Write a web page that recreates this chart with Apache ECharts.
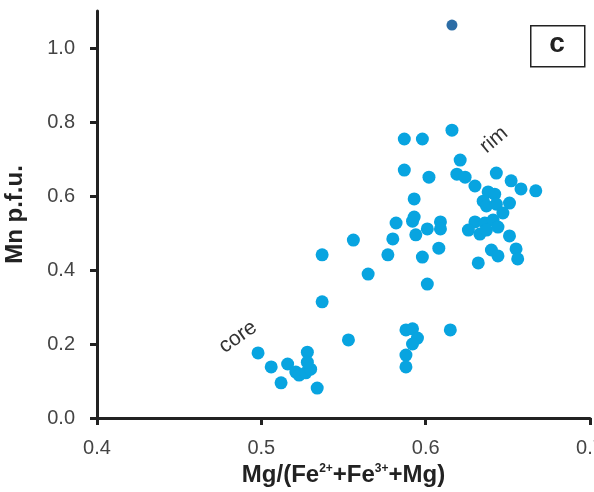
<!DOCTYPE html>
<html>
<head>
<meta charset="utf-8">
<script src="https://cdn.jsdelivr.net/npm/echarts@6/dist/echarts.min.js"></script>
<style>
html,body{margin:0;padding:0;background:#fff;}
#chart{width:594px;height:492px;}
</style>
</head>
<body>
<div id="chart"></div>
<script>
// Mg/(Fe2+ + Fe3+ + Mg) values (x)
const mgRatio = [0.498,0.506,0.512,0.516,0.521,0.523,0.527,0.530,0.528,0.528,0.534,
0.537,0.537,0.553,0.556,0.565,0.577,0.580,0.582,0.587,0.598,0.587,0.602,0.593,0.592,0.593,0.594,0.601,0.609,0.609,0.598,0.608,0.601,0.588,0.592,0.595,0.592,0.588,0.588,0.615,
0.616,0.621,0.619,0.624,0.630,0.643,0.652,0.658,0.667,0.638,0.642,0.635,0.637,0.643,0.651,0.647,0.630,0.636,0.641,0.626,0.633,0.637,0.644,0.651,0.640,0.644,0.655,0.656,0.632];
// Mn p.f.u. values (y)
const mnPfu = [0.176,0.138,0.095,0.146,0.124,0.116,0.122,0.132,0.178,0.151,0.081,
0.314,0.441,0.211,0.481,0.389,0.441,0.484,0.527,0.754,0.754,0.670,0.651,0.592,0.532,0.543,0.495,0.511,0.530,0.511,0.435,0.459,0.362,0.238,0.241,0.216,0.200,0.170,0.138,0.238,
0.778,0.697,0.659,0.651,0.627,0.662,0.641,0.619,0.614,0.611,0.605,0.586,0.573,0.578,0.581,0.554,0.530,0.527,0.535,0.508,0.497,0.508,0.516,0.492,0.454,0.438,0.457,0.430,0.419];
// outlier point
const outlierMg = [0.616];
const outlierMn = [1.062];
// tick labels
const xTicks = [0.4, 0.5, 0.6, 0.7];
const yTicks = [0.0, 0.2, 0.4, 0.6, 0.8, 1.0];

const mainData = mgRatio.map((x, i) => [x, mnPfu[i]]);
const outlierData = outlierMg.map((x, i) => [x, outlierMn[i]]);

const chart = echarts.init(document.getElementById('chart'), null, {renderer: 'canvas'});
const FONT = '"Liberation Sans", Arial, sans-serif';
const axisLine = {show: true, onZero: false, lineStyle: {color: '#222', width: 3}};
const axisTick = {show: true, length: 7, lineStyle: {color: '#222', width: 3}};

chart.setOption({
  animation: false,
  backgroundColor: '#fff',
  grid: {left: 97, right: 4, top: 11, bottom: 74, containLabel: false, outerBoundsMode: 'none'},
  xAxis: {
    type: 'value', min: 0.4, max: 0.7, interval: 0.1,
    name: '{b|Mg/(Fe}{s|2+}{b|+Fe}{s|3+}{b|+Mg)}',
    nameLocation: 'middle', nameGap: 42,
    nameTextStyle: {
      rich: {
        b: {fontFamily: FONT, fontWeight: 'bold', fontSize: 24, color: '#222'},
        s: {fontFamily: FONT, fontWeight: 'bold', fontSize: 12, color: '#222', verticalAlign: 'top', padding: [0,0,10,0]}
      }
    },
    axisLine: axisLine,
    axisTick: Object.assign({customValues: xTicks}, axisTick),
    axisLabel: {customValues: xTicks, margin: 20, fontFamily: FONT, fontSize: 20, color: '#444',
      formatter: v => v.toFixed(1)},
    splitLine: {show: false}
  },
  yAxis: {
    type: 'value', min: 0, max: 1.1, interval: 0.2,
    name: 'Mn p.f.u.', nameLocation: 'middle', nameGap: 70, nameRotate: 90,
    nameTextStyle: {fontFamily: FONT, fontWeight: 'bold', fontSize: 24, color: '#222'},
    axisLine: axisLine,
    axisTick: Object.assign({customValues: yTicks}, axisTick),
    axisLabel: {customValues: yTicks, margin: 22, fontFamily: FONT, fontSize: 20, color: '#444',
      formatter: v => v.toFixed(1)},
    splitLine: {show: false}
  },
  series: [
    {type: 'scatter', data: mainData, symbolSize: 13,
     itemStyle: {color: '#08A4E0', opacity: 1}},
    {type: 'scatter', data: outlierData, symbolSize: 11,
     itemStyle: {color: '#2C6DA6', opacity: 1}}
  ],
  graphic: [
    {type: 'rect', left: 530, top: 25, shape: {width: 54, height: 41},
     style: {fill: '#fff', stroke: '#222', lineWidth: 1.5}},
    {type: 'text', x: 557, y: 44, style: {text: 'c', fontFamily: FONT, fontWeight: 'bold', fontSize: 28,
      fill: '#222', align: 'center', verticalAlign: 'middle'}},
    {type: 'text', x: 238, y: 337, rotation: 35 * Math.PI / 180,
     style: {text: 'core', fontFamily: FONT, fontSize: 21, fill: '#333', align: 'center', verticalAlign: 'middle'}},
    {type: 'text', x: 494, y: 140, rotation: 40 * Math.PI / 180,
     style: {text: 'rim', fontFamily: FONT, fontSize: 21, fill: '#333', align: 'center', verticalAlign: 'middle'}}
  ]
});
</script>
</body>
</html>
